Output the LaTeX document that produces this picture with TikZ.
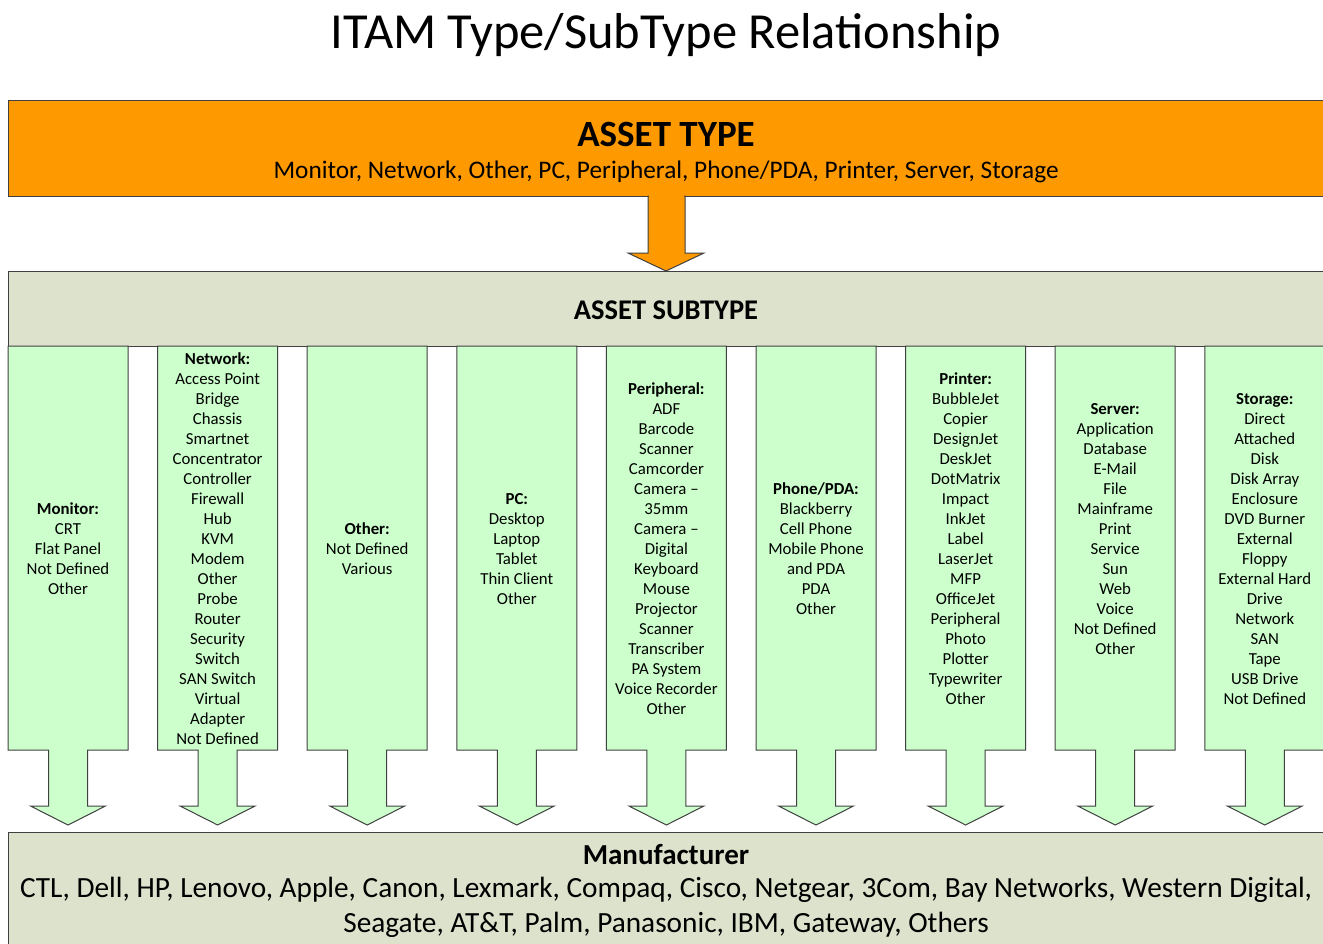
\documentclass[tikz,border=0pt]{standalone}
\usepackage{fontspec}
\setmainfont{Carlito}
\definecolor{orangefill}{HTML}{FF9900}
\definecolor{subfill}{HTML}{DDE2CC}
\definecolor{colfill}{HTML}{CCFFCC}
\definecolor{edge}{HTML}{404040}
\newcommand\colshape[1]{%
  \path[colbox] ({#1-60},346) -- ({#1+60},346) -- ({#1+60},750) -- ({#1+19.5},750) -- ({#1+19.5},806) -- ({#1+37.5},806) -- (#1,825) -- ({#1-37.5},806) -- ({#1-19.5},806) -- ({#1-19.5},750) -- ({#1-60},750) -- cycle;}
\begin{document}
\begin{tikzpicture}[x=1pt,y=-1pt,
  colbox/.style={draw=edge,fill=colfill,line width=1pt},
  coltext/.style={align=center,font=\fontsize{16.8}{20}\selectfont,inner sep=0pt},
  band/.style={draw=edge,line width=1pt}]
\useasboundingbox (0,0) rectangle (1323,943);
\clip (0,0) rectangle (1323,943);
\node (title) at (666,35) {\fontsize{50.5}{56}\selectfont ITAM Type/SubType Relationship};
% asset type band
\path[band,fill=orangefill] (8,100) rectangle (1340,196);
\path[band,fill=orangefill] (648,196) -- (685,196) -- (685,253) -- (704,253) -- (666,271) -- (628,253) -- (648,253) -- cycle;
\fill[orangefill] (648.6,190) rectangle (684.4,197.5);
\node (atype) at (666,134) {\fontsize{37}{40}\selectfont\bfseries ASSET TYPE};
\node (atlist) at (666,171.5) {\fontsize{25.3}{28}\selectfont Monitor, Network, Other, PC, Peripheral, Phone/PDA, Printer, Server, Storage};
% subtype band
\path[band,fill=subfill] (8,271) rectangle (1340,346);
\node (astype) at (666,310) {\fontsize{28.5}{32}\selectfont\bfseries ASSET SUBTYPE};
% manufacturer band
\path[band,fill=subfill] (8,832) rectangle (1340,960);
% columns
\colshape{68}
\colshape{217.6}
\colshape{367.2}
\colshape{516.8}
\colshape{666.4}
\colshape{816}
\colshape{965.6}
\colshape{1115.2}
\colshape{1264.8}
\node[coltext] (monitor) at (68,549) {\textbf{Monitor:}\\CRT\\Flat Panel\\Not Defined\\Other};
\node[coltext] (network) at (217.6,549) {\textbf{Network:}\\Access Point\\Bridge\\Chassis\\Smartnet\\Concentrator\\Controller\\Firewall\\Hub\\KVM\\Modem\\Other\\Probe\\Router\\Security\\Switch\\SAN Switch\\Virtual\\Adapter\\Not Defined};
\node[coltext] (other) at (367.2,549) {\textbf{Other:}\\Not Defined\\Various};
\node[coltext] (pc) at (516.8,549) {\textbf{PC:}\\Desktop\\Laptop\\Tablet\\Thin Client\\Other};
\node[coltext] (peripheral) at (666.4,549) {\textbf{Peripheral:}\\ADF\\Barcode\\Scanner\\Camcorder\\Camera --\\35mm\\Camera --\\Digital\\Keyboard\\Mouse\\Projector\\Scanner\\Transcriber\\PA System\\Voice Recorder\\Other};
\node[coltext] (phone) at (816,549) {\textbf{Phone/PDA:}\\Blackberry\\Cell Phone\\Mobile Phone\\and PDA\\PDA\\Other};
\node[coltext] (printer) at (965.6,539) {\textbf{Printer:}\\BubbleJet\\Copier\\DesignJet\\DeskJet\\DotMatrix\\Impact\\InkJet\\Label\\LaserJet\\MFP\\OfficeJet\\Peripheral\\Photo\\Plotter\\Typewriter\\Other};
\node[coltext] (server) at (1115.2,529) {\textbf{Server:}\\Application\\Database\\E-Mail\\File\\Mainframe\\Print\\Service\\Sun\\Web\\Voice\\Not Defined\\Other};
\node[coltext] (storage) at (1264.8,549) {\textbf{Storage:}\\Direct\\Attached\\Disk\\Disk Array\\Enclosure\\DVD Burner\\External\\Floppy\\External Hard\\Drive\\Network\\SAN\\Tape\\USB Drive\\Not Defined};
% manufacturer text
\node (manu) at (666,855) {\fontsize{29}{32}\selectfont\bfseries Manufacturer};
\node[align=center,font=\fontsize{29.3}{35}\selectfont] (manulist) at (666,907) {CTL, Dell, HP, Lenovo, Apple, Canon, Lexmark, Compaq, Cisco, Netgear, 3Com, Bay Networks, Western Digital,\\Seagate, AT\&T, Palm, Panasonic, IBM, Gateway, Others};
\end{tikzpicture}
\end{document}
